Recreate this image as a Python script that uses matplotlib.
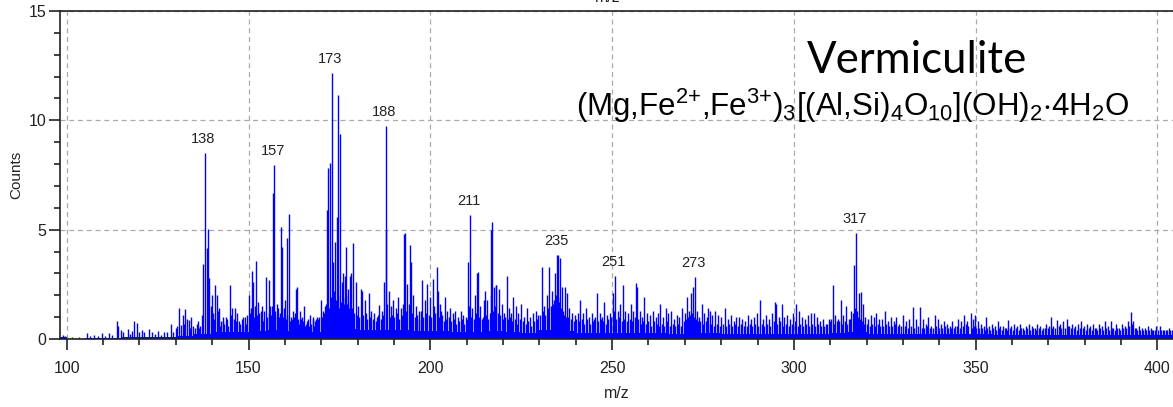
import numpy as np
import matplotlib.pyplot as plt
from matplotlib.ticker import MultipleLocator

plt.rcParams['font.family'] = ['Liberation Sans', 'DejaVu Sans']
plt.rcParams['mathtext.fontset'] = 'custom'
plt.rcParams['mathtext.rm'] = 'Liberation Sans'

# main peak list (m/z, counts)
mz = [99.0, 99.5, 101.5, 103.5, 105.6, 106.3, 107.5, 108.5, 109.7, 110.5, 111.5, 112.4,
      113.8, 114.2, 114.8, 115.5, 116.8, 117.3, 118.0, 118.6, 119.2, 119.9, 120.6, 121.3,
      122.7, 123.5, 124.3, 125.2, 126.0, 126.8, 127.6, 128.7, 129.3, 130.0, 130.8, 131.3,
      131.9, 132.6, 133.1, 133.7, 134.3, 134.8, 135.4, 136.0, 136.6, 137.2,
      137.6, 137.95, 138.5, 138.96, 139.2, 139.6, 139.9, 140.3, 140.8, 141.25, 141.6, 142.0,
      142.5, 142.9, 143.3, 143.8, 144.3, 144.9, 145.4, 145.9, 146.3, 146.9, 147.4, 148.1,
      148.6, 149.0, 149.5, 150.2, 150.5, 150.9, 151.3, 151.7, 152.0, 152.7, 153.0, 153.35,
      153.8, 154.3, 154.8, 155.5, 155.9, 156.2, 156.65, 157.0, 157.4, 157.75, 158.2, 158.5,
      158.9, 159.3, 159.7, 160.0, 160.3, 160.7, 161.05, 161.6, 162.3, 162.7, 163.0, 163.25,
      163.7, 164.2, 164.7, 165.3, 165.8, 166.4, 166.9, 167.3, 167.8, 168.3, 168.75, 169.2,
      169.85, 170.2, 170.6, 171.0, 171.5, 171.95, 172.4, 172.9, 173.3, 173.8, 174.25, 174.7,
      175.1, 175.6, 176.1, 176.5, 176.9, 177.4, 177.8, 178.2, 178.8, 179.5, 180.2, 180.85,
      181.2, 182.0, 183.0, 183.7, 184.6, 185.3, 186.0, 186.6, 187.3, 187.7, 187.8, 188.7,
      189.2, 189.8, 190.5, 191.2, 191.8, 192.8, 193.1, 193.6, 194.4, 194.8, 195.3, 196.0,
      197.0, 197.8, 198.5, 199.2, 199.8, 200.6, 200.9, 201.75, 202.0, 202.7, 203.0, 204.0,
      204.6, 205.4, 206.2, 206.8, 207.5, 208.3, 209.1, 209.7, 210.45, 210.9, 211.5, 212.2,
      212.75, 213.0, 213.8, 214.9, 215.0, 215.6, 216.6, 216.8, 217.0, 217.5, 218.0, 218.2,
      219.0, 219.6, 220.2, 221.0, 221.6, 222.2, 222.8, 223.5, 224.2, 225.0, 225.8, 226.7,
      227.4, 228.2, 229.0, 229.7, 230.6, 231.2, 232.0, 232.7, 233.5, 234.3, 234.75, 235.2,
      235.7, 236.1, 237.0, 237.5, 238.2, 239.0, 239.8, 240.5, 241.2, 242.0, 242.8, 243.6,
      244.4, 245.0, 245.75, 246.6, 247.2, 247.8, 248.6, 249.4, 250.3, 250.8, 251.5, 252.2,
      252.9, 253.6, 254.4, 255.2, 255.8, 256.6, 256.9, 257.6, 258.2, 258.8, 259.6, 260.4,
      261.2, 262.0, 262.6, 263.2, 264.0, 264.8, 265.5, 266.3, 267.0, 267.8, 268.5, 269.3,
      270.0, 270.5, 271.2, 271.7, 272.35, 272.8, 273.4, 274.0, 274.6, 275.4, 276.0, 276.5,
      276.9, 277.6, 278.4, 279.2, 280.0, 281.05, 281.8, 282.6, 283.4, 284.2, 284.9, 285.8,
      286.6, 287.4, 288.2, 289.0, 289.8, 290.7, 291.5, 292.3, 293.1, 294.0, 294.8, 295.1,
      295.8, 296.6, 297.4, 298.2, 299.0, 299.8, 300.6, 301.4, 302.2, 303.0, 303.8, 304.6,
      305.5, 306.3, 307.1, 308.0, 308.8, 309.6, 310.7, 311.4, 312.1, 312.9, 313.6, 314.3,
      315.1, 315.8, 316.5, 317.0, 317.4, 317.9, 318.4, 318.9, 319.6, 320.4, 321.2, 322.0,
      322.6, 323.4, 324.2, 325.05, 325.8, 326.6, 327.4, 328.2, 329.0, 330.1, 330.9, 331.7,
      332.7, 333.5, 334.7, 335.5, 336.3, 337.0, 337.8, 338.8, 339.6, 340.4, 341.2, 342.0,
      342.8, 343.6, 344.4, 345.2, 346.0, 346.8, 347.6, 348.6, 349.2, 349.8, 350.6, 351.4,
      352.2, 352.8, 353.6, 354.4, 355.2, 356.0, 356.8, 357.6, 358.4, 359.0, 359.8, 360.6,
      361.4, 362.2, 363.0, 363.8, 364.6, 365.4, 366.2, 367.0, 367.8, 368.6, 369.4, 370.6,
      371.4, 372.4, 373.2, 374.0, 375.0, 375.8, 376.6, 377.4, 378.2, 379.1, 379.9, 380.7,
      381.5, 382.3, 383.1, 383.9, 384.7, 385.5, 386.3, 387.1, 387.8, 388.6, 389.4, 390.2,
      391.0, 391.8, 392.6, 393.3, 394.1, 394.9, 395.7, 396.5, 397.3, 398.1, 398.9, 399.7,
      400.7, 401.5, 402.3, 403.1, 403.9]

counts = [0.18, 0.15, 0.1, 0.1, 0.29, 0.15, 0.2, 0.15, 0.29, 0.12, 0.29, 0.2,
          0.82, 0.6, 0.4, 0.3, 0.45, 0.25, 0.35, 0.83, 0.75, 0.3, 0.43, 0.3,
          0.46, 0.3, 0.25, 0.35, 0.2, 0.33, 0.3, 0.7, 0.3, 0.5, 1.4, 0.65,
          1.1, 1.37, 0.9, 0.85, 1.0, 0.6, 0.5, 0.83, 0.6, 1.1,
          3.45, 8.52, 4.14, 5.05, 2.8, 1.5, 2.0, 1.2, 2.45, 2.0, 1.3, 1.4,
          0.8, 1.0, 0.7, 1.0, 0.6, 2.45, 1.4, 0.9, 1.4, 1.2, 0.8, 0.9,
          0.6, 1.0, 1.1, 2.0, 1.2, 3.12, 2.6, 1.5, 3.55, 1.7, 1.2, 1.3,
          1.5, 1.3, 2.82, 2.7, 1.5, 1.1, 6.68, 7.97, 1.3, 1.6, 1.4, 1.0,
          5.13, 4.2, 1.4, 1.8, 0.9, 4.6, 5.7, 1.0, 1.3, 1.2, 2.3, 2.4,
          0.9, 1.3, 1.0, 1.5, 0.7, 0.9, 1.1, 0.7, 1.0, 0.8, 1.0, 0.9,
          1.8, 1.0, 1.3, 1.5, 5.9, 7.8, 8.05, 12.18, 3.5, 4.45, 5.6, 11.17,
          9.36, 2.6, 3.0, 2.9, 4.2, 2.3, 2.9, 3.0, 4.4, 2.6, 1.5, 2.3,
          2.2, 1.8, 2.1, 1.3, 1.2, 1.0, 1.55, 1.3, 2.6, 9.74, 5.0, 2.2,
          1.5, 1.8, 1.4, 1.9, 1.4, 4.8, 4.85, 2.5, 4.3, 3.5, 2.0, 1.5,
          1.3, 2.7, 1.8, 2.5, 1.9, 2.75, 1.5, 3.3, 2.2, 1.6, 1.3, 1.9,
          1.3, 1.4, 1.2, 1.3, 1.0, 1.3, 1.1, 1.0, 3.5, 5.66, 1.4, 2.0,
          3.0, 3.05, 1.5, 1.8, 2.2, 1.8, 2.0, 5.0, 5.36, 2.4, 2.45, 2.45,
          2.3, 1.6, 1.2, 2.9, 1.4, 1.2, 1.9, 1.5, 1.2, 1.6, 1.0, 1.4,
          1.0, 1.2, 1.3, 1.1, 3.3, 1.5, 2.0, 3.3, 2.2, 3.0, 3.83, 3.85,
          3.7, 2.4, 2.4, 2.1, 1.4, 1.2, 1.1, 1.2, 1.8, 1.2, 1.4, 1.0,
          1.2, 0.9, 2.1, 1.2, 1.0, 1.7, 1.1, 1.2, 2.1, 2.87, 1.3, 1.6,
          2.45, 1.3, 1.2, 1.6, 1.3, 2.55, 2.4, 1.3, 1.0, 1.9, 1.2, 1.1,
          1.3, 1.0, 1.2, 1.6, 1.0, 1.4, 1.2, 1.3, 0.9, 1.1, 1.0, 1.4,
          1.2, 1.9, 1.3, 2.1, 2.4, 2.85, 1.3, 1.0, 1.6, 1.2, 1.0, 1.4,
          1.3, 1.1, 1.3, 1.1, 1.0, 1.4, 0.9, 1.1, 0.8, 1.0, 1.0, 0.9,
          0.8, 1.1, 0.9, 1.0, 1.2, 1.78, 0.9, 1.1, 0.9, 1.2, 1.7, 1.6,
          1.0, 1.6, 1.0, 1.1, 0.9, 1.2, 1.6, 1.3, 1.0, 0.9, 1.1, 1.2,
          1.2, 1.0, 0.8, 0.9, 0.7, 0.9, 2.47, 1.1, 0.9, 1.8, 1.1, 1.5,
          0.9, 1.3, 3.38, 4.83, 1.3, 2.1, 2.15, 1.6, 1.0, 0.9, 1.1, 1.0,
          1.2, 0.9, 0.9, 1.3, 0.8, 1.0, 0.8, 1.0, 0.7, 1.1, 0.8, 0.9,
          1.45, 0.9, 1.45, 0.9, 0.7, 1.0, 0.6, 1.1, 0.9, 0.7, 0.8, 0.7,
          0.6, 0.8, 0.6, 0.9, 0.8, 1.1, 0.8, 1.2, 0.9, 1.1, 0.8, 0.7,
          0.6, 1.0, 0.6, 0.7, 0.6, 0.8, 0.6, 0.6, 0.5, 0.85, 0.6, 0.7,
          0.6, 0.7, 0.5, 0.6, 0.7, 0.6, 0.5, 0.7, 0.6, 0.5, 0.7, 1.0,
          0.6, 0.85, 0.7, 0.8, 0.9, 0.6, 0.7, 0.6, 0.7, 0.8, 0.6, 0.7,
          0.6, 0.7, 0.5, 0.7, 0.6, 0.8, 0.6, 0.8, 0.5, 0.7, 0.5, 0.7,
          0.6, 0.8, 1.25, 0.8, 0.5, 0.6, 0.5, 0.5, 0.6, 0.5, 0.4, 0.6,
          0.6, 0.4, 0.4, 0.5, 0.4]

# smaller lines sitting between the main peaks
mz_minor = [130.4, 132.2, 134.0, 135.7, 136.3, 140.6, 142.2, 143.0, 144.0, 145.1, 146.6, 147.7,
            148.4, 149.3, 150.7, 151.5, 152.3, 153.6, 154.0, 155.1, 155.7, 156.4, 157.2, 158.0,
            158.7, 159.5, 160.5, 161.3, 161.9, 162.5, 163.5, 164.0, 164.5, 165.0, 165.6, 166.1,
            166.7, 167.6, 168.0, 168.5, 169.0, 169.5, 170.4, 170.8, 171.3, 172.1, 172.6, 173.1,
            173.55, 174.0, 174.5, 174.9, 175.35, 175.85, 176.3, 176.7, 177.2, 177.6, 178.0, 178.5,
            179.0, 179.8, 180.5, 181.6, 182.4, 182.7, 183.3, 184.2, 185.0, 185.7, 186.3, 187.0,
            188.2, 189.0, 189.5, 190.1, 190.8, 191.5, 192.2, 192.5, 193.4, 194.1, 195.0, 195.7,
            196.4, 196.8, 197.4, 198.1, 198.8, 199.5, 200.2, 201.3, 202.3, 203.3, 203.7, 204.3,
            205.0, 205.8, 206.5, 207.1, 207.9, 208.7, 209.4, 210.1, 210.7, 211.2, 211.9, 212.5,
            213.4, 214.2, 214.6, 215.3, 216.0, 216.3, 217.2, 217.8, 218.6, 219.3, 219.9, 220.6,
            221.3, 221.9, 222.5, 223.2, 223.8, 224.6, 225.4, 226.2, 227.0, 227.8, 228.6, 229.4,
            230.2, 230.9, 231.6, 232.3, 233.1, 233.8, 234.0, 234.5, 235.0, 235.45, 235.9, 236.5,
            236.8, 237.3, 237.8, 238.6, 239.4, 240.1, 240.8, 241.6, 242.4, 243.2, 244.0, 244.8,
            245.4, 246.2, 246.9, 247.5, 248.2, 249.0, 249.8, 250.55, 251.2, 251.8, 252.6, 253.2,
            254.0, 254.8, 255.5, 256.2, 257.2, 257.9, 258.5, 259.2, 260.0, 260.8, 261.6, 262.3,
            262.9, 263.6, 264.4, 265.2, 265.9, 266.7, 267.4, 268.1, 268.9, 269.7, 270.2, 270.9,
            271.4, 272.0, 272.6, 273.1, 273.7, 274.3, 275.0, 275.7, 276.3, 277.2, 278.0, 278.8,
            279.6, 280.4, 281.4, 282.2, 283.0, 283.8, 284.6, 285.4, 286.2, 287.0, 287.8, 288.6,
            289.4, 290.2, 291.1, 291.9, 292.7, 293.5, 294.4, 295.4, 296.2, 297.0, 297.8, 298.6,
            299.4, 300.2, 301.0, 301.8, 302.6, 303.4, 304.2, 305.0, 305.9, 306.7, 307.5, 308.4,
            309.2, 310.0, 310.3, 311.0, 311.8, 312.5, 313.2, 314.0, 314.7, 315.4, 316.2, 316.8,
            317.2, 317.7, 318.2, 318.7, 319.3, 320.0, 320.8, 321.6, 322.3, 323.0, 323.8, 324.6,
            325.4, 326.2, 327.0, 327.8, 328.6, 329.4, 330.5, 331.3, 332.3, 333.1, 334.1, 335.1,
            335.9, 336.7, 337.4, 338.3, 339.2, 340.0, 340.8, 341.6, 342.4, 343.2, 344.0, 344.8,
            345.6, 346.4, 347.2, 348.0, 348.9, 349.5, 350.2, 351.0, 351.8, 352.5, 353.2, 354.0,
            354.8, 355.6, 356.4, 357.2, 358.0, 358.7, 359.4, 360.2, 361.0, 361.8, 362.6, 363.4,
            364.2, 365.0, 365.8, 366.6, 367.4, 368.2, 369.0, 369.8, 370.2, 371.0, 371.8, 372.8,
            373.6, 374.5, 375.4, 376.2, 377.0, 377.8, 378.6, 379.5, 380.3, 381.1, 381.9, 382.7,
            383.5, 384.3, 385.1, 385.9, 386.7, 387.5, 388.2, 389.0, 389.8, 390.6, 391.4, 392.2,
            392.9, 393.7, 394.5, 395.3, 396.1, 396.9, 397.7, 398.5, 399.3, 400.1, 400.9, 401.9,
            402.7, 403.5]

counts_minor = [0.6, 0.7, 0.5, 0.7, 0.5, 0.9, 0.6, 0.8, 0.9, 1.1, 0.8, 0.7,
                1.0, 0.7, 1.4, 1.0, 1.1, 0.9, 0.8, 1.0, 1.2, 1.5, 1.0, 0.9,
                1.2, 1.0, 1.1, 0.8, 0.9, 1.0, 0.8, 0.7, 0.9, 0.8, 0.6, 0.8,
                0.6, 0.9, 0.6, 0.9, 0.7, 1.0, 0.9, 1.2, 1.6, 1.4, 1.9, 1.6,
                2.2, 1.8, 2.0, 1.4, 1.7, 1.9, 1.6, 2.0, 1.6, 1.4, 1.7, 1.4,
                1.2, 1.1, 1.0, 1.1, 1.2, 0.9, 1.0, 0.9, 0.8, 1.1, 0.9, 1.1,
                1.6, 1.0, 1.1, 1.0, 1.2, 0.9, 1.1, 1.6, 1.3, 1.6, 1.2, 1.0,
                1.1, 0.9, 1.3, 1.0, 1.2, 1.1, 1.0, 1.2, 1.0, 1.1, 0.8, 0.9,
                1.0, 0.8, 0.9, 0.7, 0.8, 0.9, 0.7, 0.9, 1.5, 1.0, 0.9, 1.2,
                1.0, 0.9, 1.0, 1.1, 0.9, 1.2, 1.3, 1.5, 1.2, 1.1, 0.9, 1.0,
                0.9, 1.0, 0.8, 0.9, 0.7, 0.9, 0.8, 0.7, 0.8, 0.6, 0.8, 0.9,
                1.1, 1.3, 1.1, 1.4, 1.5, 1.6, 1.8, 2.0, 1.9, 1.7, 1.4, 1.3,
                1.1, 1.0, 1.0, 0.9, 0.8, 0.9, 0.8, 0.9, 0.7, 0.9, 0.7, 0.8,
                1.0, 0.8, 0.9, 0.8, 0.7, 0.9, 1.0, 1.3, 0.9, 1.0, 0.8, 0.9,
                0.8, 0.9, 0.8, 1.0, 0.9, 0.7, 0.8, 0.7, 0.8, 0.6, 0.8, 0.7,
                0.6, 0.7, 0.6, 0.8, 0.6, 0.7, 0.6, 0.7, 0.6, 0.8, 0.9, 1.0,
                1.1, 1.2, 1.0, 0.9, 0.8, 0.8, 0.7, 0.8, 0.7, 0.7, 0.6, 0.7,
                0.6, 0.7, 0.6, 0.7, 0.6, 0.7, 0.6, 0.7, 0.6, 0.6, 0.7, 0.6,
                0.7, 0.6, 0.7, 0.6, 0.7, 0.6, 0.8, 0.7, 0.8, 0.6, 0.7, 0.6,
                0.7, 0.8, 0.6, 0.7, 0.6, 0.7, 0.6, 0.7, 0.6, 0.7, 0.6, 0.6,
                0.7, 0.8, 0.9, 0.7, 0.8, 0.8, 0.7, 0.8, 0.7, 0.9, 1.2, 1.4,
                1.1, 1.0, 0.9, 0.8, 0.7, 0.7, 0.6, 0.7, 0.6, 0.7, 0.6, 0.6,
                0.7, 0.6, 0.6, 0.7, 0.6, 0.6, 0.6, 0.5, 0.6, 0.5, 0.6, 0.5,
                0.5, 0.6, 0.5, 0.5, 0.6, 0.5, 0.5, 0.6, 0.5, 0.5, 0.5, 0.6,
                0.5, 0.6, 0.7, 0.6, 0.5, 0.6, 0.5, 0.5, 0.5, 0.4, 0.5, 0.4,
                0.5, 0.4, 0.5, 0.4, 0.5, 0.4, 0.5, 0.4, 0.5, 0.4, 0.5, 0.4,
                0.5, 0.4, 0.5, 0.4, 0.5, 0.4, 0.5, 0.5, 0.6, 0.5, 0.5, 0.6,
                0.5, 0.5, 0.6, 0.5, 0.5, 0.4, 0.5, 0.5, 0.4, 0.5, 0.4, 0.5,
                0.4, 0.5, 0.4, 0.5, 0.4, 0.5, 0.4, 0.5, 0.4, 0.5, 0.5, 0.6,
                0.7, 0.5, 0.4, 0.4, 0.4, 0.4, 0.4, 0.4, 0.4, 0.4, 0.4, 0.4,
                0.4, 0.4]

# dense low-level background, one value per 5 m/z bin
base_start = [98, 100, 105, 110, 115, 120, 125, 130, 135, 140, 145, 150, 155, 160, 165,
              170, 175, 180, 185, 190, 195, 200, 205, 210, 215, 220, 225, 230, 235, 240,
              245, 250, 255, 260, 265, 270, 275, 280, 285, 290, 295, 300, 305, 310, 315,
              320, 325, 330, 335, 340, 345, 350, 355, 360, 365, 370, 375, 380, 385, 390,
              395, 400, 405]
base_level = [0.1, 0.02, 0.05, 0.06, 0.08, 0.08, 0.08, 0.15, 0.25, 0.3, 0.3, 0.35, 0.4, 0.35, 0.3,
              0.4, 0.45, 0.4, 0.4, 0.4, 0.35, 0.35, 0.3, 0.3, 0.35, 0.3, 0.28, 0.4, 0.35, 0.28,
              0.28, 0.28, 0.28, 0.26, 0.25, 0.28, 0.26, 0.25, 0.25, 0.25, 0.25, 0.25, 0.25, 0.28, 0.3,
              0.25, 0.25, 0.24, 0.24, 0.22, 0.22, 0.22, 0.2, 0.2, 0.2, 0.2, 0.2, 0.18, 0.18, 0.18,
              0.18, 0.18, 0.18]

peak_labels = ['138', '157', '173', '188', '211', '235', '251', '273', '317']

fig = plt.figure(figsize=(11.73, 4.07), dpi=100)
ax = fig.add_axes([0.0512, 0.1671, 0.9488, 0.8059])

ax.fill_between(base_start, 0, base_level, step='post', color='blue', lw=0)
ax.vlines(mz_minor, 0, counts_minor, color='blue', lw=1.0)
ax.vlines(mz, 0, counts, color='blue', lw=1.0)

mz_arr = np.array(mz)
cnt_arr = np.array(counts)
for lab in peak_labels:
    near = np.abs(mz_arr - float(lab)) < 1.2
    i = np.argmax(np.where(near, cnt_arr, -1))
    ax.annotate(lab, (mz_arr[i], cnt_arr[i]), xytext=(-1, 10), textcoords='offset points',
                ha='center', va='center', fontsize=10.5, color='#222222')

ax.set_xlim(98.16, 404.27)
ax.set_ylim(0, 15)
ax.xaxis.set_major_locator(MultipleLocator(50))
ax.xaxis.set_minor_locator(MultipleLocator(10))
ax.yaxis.set_major_locator(MultipleLocator(5))
ax.yaxis.set_minor_locator(MultipleLocator(1))
ax.tick_params(which='major', length=8, width=1.2, labelsize=11.5, colors='#222222')
ax.tick_params(axis='x', which='major', pad=8)
ax.tick_params(axis='y', which='major', pad=2)
ax.tick_params(which='minor', length=4.5, width=1.2, color='#222222')
ax.grid(True, which='major', color='#aaaaaa', ls=(0, (4, 3)), lw=0.9)
ax.set_axisbelow(True)

for s in ['left', 'bottom', 'top']:
    ax.spines[s].set_linewidth(1.2)
    ax.spines[s].set_color('#222222')
ax.spines['right'].set_visible(False)

ax.set_xlabel('m/z', fontsize=11.5, color='#222222')
ax.xaxis.set_label_coords(0.5, -0.142)
ax.set_ylabel('Counts', fontsize=11, color='#222222')
ax.yaxis.set_label_coords(-0.033, 0.5)

# cut-off axis title of the panel above
fig.text(0.518, 1.007, 'm/z', ha='center', va='center', fontsize=11.5, color='#222222')

ax.text(0.671, 0.811, 'Vermiculite', transform=ax.transAxes, fontsize=31.5,
        family=['Lato', 'DejaVu Sans'], ha='left', va='baseline')
ax.text(0.464, 0.68,
        r'$\mathregular{(Mg{,}Fe^{2{+}}{,}Fe^{3{+}})_3[(Al{,}Si)_4O_{10}](OH)_2{\cdot}4H_2O}$',
        transform=ax.transAxes, fontsize=22.5, ha='left', va='baseline')

fig.savefig('out.png', dpi=100)
